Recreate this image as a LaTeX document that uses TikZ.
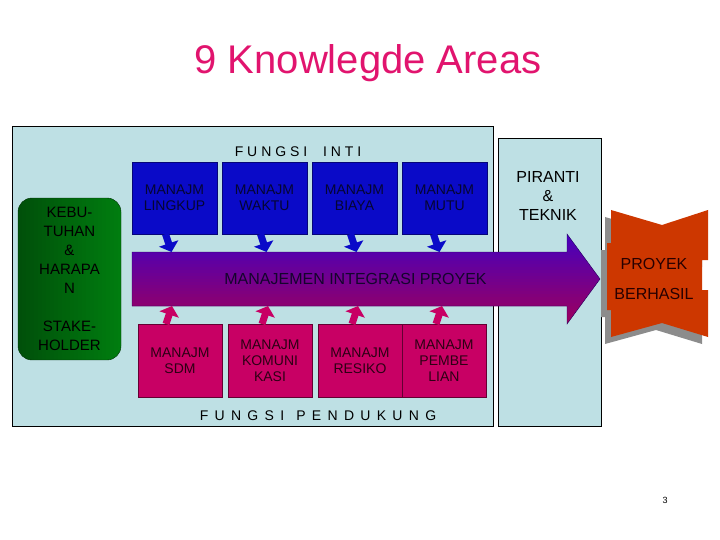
\documentclass[tikz,border=0pt]{standalone}
\usepackage{fontspec}
\setmainfont{Liberation Sans}
\newfontfamily\intifont[LetterSpace=28]{Liberation Sans}
\newfontfamily\pendukungfont[LetterSpace=45]{Liberation Sans}
\usepackage{tikz}
\usetikzlibrary{positioning,calc,arrows.meta}

\definecolor{titlePink}{RGB}{225,20,110}
\definecolor{panel}{RGB}{190,224,228}
\definecolor{blueFill}{RGB}{10,10,200}
\definecolor{blueText}{RGB}{5,5,50}
\definecolor{pinkFill}{RGB}{200,0,100}
\definecolor{pinkText}{RGB}{45,0,20}
\definecolor{arrowTop}{RGB}{70,0,190}
\definecolor{arrowBot}{RGB}{160,0,90}
\definecolor{arrowText}{RGB}{20,5,45}
\definecolor{greenDark}{RGB}{0,80,10}
\definecolor{greenLight}{RGB}{0,125,15}
\definecolor{proyekRed}{RGB}{205,55,0}
\definecolor{proyekText}{RGB}{40,0,0}
\definecolor{shadowGray}{RGB}{140,140,140}

\begin{document}
\begin{tikzpicture}[x=1pt, y=-1pt,
    coreBox/.style={fill=blueFill, draw=blueFill!60!black, line width=0.4pt, outer sep=0pt,
      minimum width=85pt, minimum height=72pt},
    supportBox/.style={fill=pinkFill, draw=pinkFill!50!black, line width=0.5pt, outer sep=0pt,
      minimum width=84pt, minimum height=73pt},
    boxLabel/.style={align=center, font=\fontsize{14}{16}\selectfont},
    downArrow/.style={draw=blueFill, line width=7pt, -{Triangle[width=20pt, length=9pt]}},
    upArrow/.style={draw=pinkFill, line width=7pt, -{Triangle[width=20pt, length=9pt]}}]
  \useasboundingbox (0,0) rectangle (720,540);

  % Background panels
  \draw[fill=panel, line width=0.8pt] (12,126) rectangle (493,426);
  \draw[fill=panel, line width=0.8pt] (498,138) rectangle (601,426);

  % Stakeholder block (gradient from left to right)
  \begin{scope}
    \clip[rounded corners=14pt] (18,198) rectangle (121,360);
    \foreach \i [evaluate=\i as \p using 100*\i/25] in {0,...,25}
      \fill[greenLight!\p!greenDark] (18+4*\i,198) rectangle (23+4*\i,360);
  \end{scope}
  \draw[greenDark!60!black, rounded corners=14pt] (18,198) rectangle (121,360);
  \coordinate (stake) at (69.5,279);

  % Core functions
  \node[coreBox] (lingkup) at (174.5,198) {};
  \node[coreBox, right=5pt of lingkup] (waktu) {};
  \node[coreBox, right=5pt of waktu] (biaya) {};
  \node[coreBox, right=5pt of biaya] (mutu) {};

  % Supporting functions
  \node[supportBox] (sdm) at (180,360.5) {};
  \node[supportBox, right=6pt of sdm] (komunikasi) {};
  \node[supportBox, right=6pt of komunikasi] (resiko) {};
  \node[supportBox, right=0pt of resiko] (pembelian) {};

  % Integration arrow (gradient from top to bottom)
  \coordinate (bodyTop) at (132,252);
  \coordinate (bodyBottom) at (132,306);
  \begin{scope}
    \clip (bodyTop) -- (567,252) -- (567,234) -- (600,279) -- (567,324) -- (567,306)
      -- (bodyBottom) -- cycle;
    \foreach \i [evaluate=\i as \p using 100*\i/30] in {0,...,30}
      \fill[arrowBot!\p!arrowTop] (132,234+3*\i) rectangle (600,238+3*\i);
  \end{scope}
  \draw[arrowTop!50!black, line width=0.4pt]
    (bodyTop) -- (567,252) -- (567,234) -- (600,279) -- (567,324) -- (567,306) -- (bodyBottom) -- cycle;

  % Feed arrows into the integration arrow
  \foreach \bx/\sh in {lingkup/-9, waktu/-4, biaya/-4, mutu/-11}
    \draw[downArrow] ($(\bx.south)+(\sh,0)$) -- ($(\bx.south |- bodyTop)+(\sh+6,0)$);
  \foreach \bx/\sh in {sdm/-14, komunikasi/-8, resiko/-8, pembelian/-8}
    \draw[upArrow] ($(\bx.north)+(\sh,0)$) -- ($(\bx.north |- bodyBottom)+(\sh+6,0)$);

  % Result banner with shadow
  \fill[shadowGray, shift={(-6,7)}] (611,210) -- (662,225) -- (708,210) -- (708,260) -- (702,260)
    -- (702,290) -- (708,290) -- (708,337) -- (662,323) -- (611,337) -- (611,310)
    -- (607,310) -- (607,243) -- (611,243) -- cycle;
  \fill[proyekRed] (611,210) -- (662,225) -- (708,210) -- (708,260) -- (702,260)
    -- (702,290) -- (708,290) -- (708,337) -- (662,323) -- (611,337) -- (611,310)
    -- (607,310) -- (607,243) -- (611,243) -- cycle;
  \coordinate (banner) at (654,279);

  % Labels
  \node[text=titlePink, font=\fontsize{40}{44}\selectfont] (title) at (368,63) {9 Knowlegde Areas};
  \node[text=black, font=\intifont\fontsize{14}{16}\selectfont] (inti) at (298,152)
    {FUNGSI\hspace{8pt} INTI};
  \node[text=black, font=\pendukungfont\fontsize{14}{16}\selectfont] (pendukung) at (318,416)
    {FUNGSI\hspace{2pt} PENDUKUNG};
  \node[text=black, align=center, font=\fontsize{15}{19}\selectfont] (stakeText) at (stake)
    {\color{black}KEBU-\\TUHAN\\\&\\HARAPA\\N\\[19pt]STAKE-\\HOLDER};
  \node[boxLabel, text=blueText] (lingkupText) at (lingkup) {\color{blueText}MANAJM\\LINGKUP};
  \node[boxLabel, text=blueText] (waktuText) at (waktu) {\color{blueText}MANAJM\\WAKTU};
  \node[boxLabel, text=blueText] (biayaText) at (biaya) {\color{blueText}MANAJM\\BIAYA};
  \node[boxLabel, text=blueText] (mutuText) at (mutu) {\color{blueText}MANAJM\\MUTU};
  \node[boxLabel, text=pinkText] (sdmText) at (sdm) {\color{pinkText}MANAJM\\SDM};
  \node[boxLabel, text=pinkText] (komunikasiText) at (komunikasi) {\color{pinkText}MANAJM\\KOMUNI\\KASI};
  \node[boxLabel, text=pinkText] (resikoText) at (resiko) {\color{pinkText}MANAJM\\RESIKO};
  \node[boxLabel, text=pinkText] (pembelianText) at (pembelian) {\color{pinkText}MANAJM\\PEMBE\\LIAN};
  \node[text=arrowText, font=\fontsize{16}{19}\selectfont] (integrasi) at (355.5,279)
    {\color{arrowText}MANAJEMEN INTEGRASI PROYEK};
  \node[text=black, align=center, font=\fontsize{16}{19}\selectfont] (piranti) at (548,196)
    {PIRANTI\\\&\\TEKNIK};
  \node[text=proyekText, align=center, font=\fontsize{16}{30}\selectfont] (proyek) at (banner)
    {\color{proyekText}PROYEK\\BERHASIL};
  \node[text=black, font=\fontsize{9}{11}\selectfont] (pageNum) at (665,500) {3};
\end{tikzpicture}
\end{document}
